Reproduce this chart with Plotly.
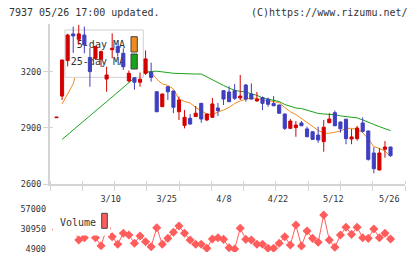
import numpy as np
import plotly.graph_objects as go

# ---------------- data ----------------
dates = ["2/25","2/26","2/27","2/28","3/3","3/4","3/5","3/6","3/7","3/10",
         "3/11","3/12","3/13","3/14","3/17","3/18","3/19","3/21","3/24","3/25",
         "3/26","3/27","3/28","3/31","4/1","4/2","4/3","4/4","4/7","4/8",
         "4/9","4/10","4/11","4/14","4/15","4/16","4/17","4/18","4/21","4/22",
         "4/23","4/24","4/25","4/28","4/30","5/1","5/2","5/7","5/8","5/9","5/12",
         "5/13","5/14","5/15","5/16","5/19","5/20","5/21","5/22","5/23","5/26"]

open_ = [2955,3071,3261,3404,3375,3398,3278,3273,3268,3162,
         3319,3336,3300,3152,3169,3145,3193,3200,3094,3014,
         3121,3098,2987,2914,2952,2961,3032,2943,2957,3007,
         3100,3093,3100,3061,3130,3082,3045,3063,3054,3031,
         3023,2975,2898,2902,2927,2895,2880,2862,2827,2928,
         2982,2932,2947,2841,2843,2927,2884,2766,2675,2786,2798]
high = [2958,3266,3405,3443,3452,3443,3329,3340,3315,3228,
        3407,3340,3327,3208,3172,3197,3315,3250,3096,3084,
        3123,3100,3068,2996,2975,3018,3034,2977,3061,3034,
        3102,3123,3136,3184,3136,3139,3093,3069,3063,3071,
        3025,2977,2948,2937,2937,2907,2882,2907,2943,2979,
        2993,2934,2949,2895,2911,2957,2886,2797,2793,2830,2800]
low = [2955,3050,3230,3302,3345,3300,3121,3265,3228,3094,
       3273,3282,3211,3145,3105,3121,3184,3148,2985,3012,
       3050,2979,2943,2898,2919,2959,2928,2937,2955,2964,
       3023,3039,3050,3050,3041,3053,3041,2996,3014,3017,
       2977,2889,2896,2853,2910,2851,2837,2821,2773,2926,
       2910,2875,2813,2813,2832,2875,2725,2657,2673,2741,2746]
close = [2958,3264,3398,3393,3404,3345,3202,3336,3309,3184,
         3327,3305,3228,3193,3145,3161,3270,3171,2987,3082,
         3094,3011,3050,2957,2921,2979,2948,2975,3029,2993,
         3055,3041,3059,3071,3055,3055,3054,3032,3027,3019,
         2979,2898,2937,2916,2912,2853,2839,2836,2904,2948,
         2912,2896,2843,2852,2900,2882,2732,2682,2766,2798,2752]

ma5 = [None,3029,3086,3136,3250,3330,3330,3320,3300,3270,
       3280,3290,3275,3250,3225,3215,3211,3197,3162,3136,
       3128,3109,3055,3042,3034,3010,2994,2975,2970,2986,
       2996,3010,3031,3045,3054,3059,3059,3050,3046,3042,
       3036,3010,2987,2972,2950,2929,2905,2887,2873,2872,
       2877,2884,2898,2898,2892,2876,2841,2801,2790,2777,2747]
ma25 = [None,2839,2865,2891,2916,2941,2966,2991,3016,3041,
        3066,3091,3117,3144,3168,3188,3197,3203,3204,3202,
        3197,3193,3191,3189,3189,3189,3189,3173,3156,3141,
        3128,3114,3102,3096,3093,3083,3075,3061,3054,3048,
        3042,3026,3015,3007,3004,2996,2986,2978,2975,2974,
        2971,2965,2961,2959,2954,2943,2929,2919,2907,2896,2886]

volume = [30000,35000,38000,33000,16600,19600,36000,19600,9200,32000,
          20900,11000,25400,23100,12300,21800,14400,7900,32600,11000,
          18800,26700,34900,25400,16600,11000,11000,5800,17900,19600,
          17500,6600,4900,31900,17500,16600,11000,11000,5800,5800,
          12300,20900,10100,36200,8800,28300,18800,13600,49200,16600,
          7100,23100,33200,24000,33200,19600,18800,31000,19600,25400,17900]

price_ticks = [2600, 2900, 3200]
vol_ticks = [4900, 30950, 57000]
date_labels = ["3/10", "3/25", "4/8", "4/22", "5/12", "5/26"]

# ---------------- geometry / style ----------------
W, H = 420, 259
ML, MR, MT, MB = 50, 15, 24, 7
XR = [-1.17, 62.6]
PRICE_RANGE = [2600, 3457]
VOL_RANGE = [993, 62210]
FONT = "DejaVu Sans Mono"
UP, DOWN = "#d40000", "#3f3fbf"
ORANGE, GREEN = "#f08c1e", "#1aa31a"
VOLC = "#ff5c5c"
AX = "#d4d4d4"
TXT = "#333333"

pw, ph = W - ML - MR, H - MT - MB
def px2x(p):  # pixel x -> data x (index units)
    return XR[0] + (p - ML) / pw * (XR[1] - XR[0])
def pxp(p):   # pixel x -> paper
    return (p - ML) / pw
def pyp(p):   # pixel y -> paper
    return (H - MB - p) / ph

x = list(range(len(dates)))
label_pos = [px2x(p) for p in (110.7, 166.7, 224.0, 278.0, 333.3, 389.3)]
tick_pos = list(np.linspace(XR[0], XR[1], 12))

fig = go.Figure()

# moving averages (base price subplot)
fig.add_trace(go.Scatter(x=x, y=ma5, mode="lines", line=dict(color=ORANGE, width=1),
                         xaxis="x", yaxis="y", hoverinfo="skip"))
fig.add_trace(go.Scatter(x=x, y=ma25, mode="lines", line=dict(color=GREEN, width=1),
                         xaxis="x", yaxis="y", hoverinfo="skip"))

# legend box (drawn above MA lines, below candles) on y3 in pixel units
bx = [px2x(v) for v in (65, 143.3, 143.3, 65, 65)]
fig.add_trace(go.Scatter(x=bx, y=[30, 30, 77.3, 77.3, 30], mode="lines", fill="toself",
                         fillcolor="white", line=dict(color="#d0d0d0", width=1),
                         xaxis="x", yaxis="y3", hoverinfo="skip"))
for (y0, y1, col, name) in ((36.7, 52, ORANGE, "5-day MA"), (54, 69, GREEN, "25-day MA")):
    sx = [px2x(v) for v in (131, 137.3, 137.3, 131, 131)]
    fig.add_trace(go.Scatter(x=sx, y=[y0, y0, y1, y1, y0], mode="lines", fill="toself",
                             fillcolor=col, line=dict(color="#444444", width=1),
                             xaxis="x", yaxis="y3", hoverinfo="skip"))
    fig.add_trace(go.Scatter(x=[px2x(125)], y=[(y0 + y1) / 2 + 1], mode="text", text=[name],
                             textposition="middle left",
                             textfont=dict(family=FONT, size=10, color=TXT),
                             xaxis="x", yaxis="y3", hoverinfo="skip"))

# candles on top overlay
fig.add_trace(go.Candlestick(x=x, open=open_, high=high, low=low, close=close,
                             increasing=dict(line=dict(color=UP, width=1), fillcolor=UP),
                             decreasing=dict(line=dict(color=DOWN, width=1), fillcolor=DOWN),
                             whiskerwidth=0, xaxis="x", yaxis="y4", hoverinfo="skip"))

# volume
fig.add_trace(go.Scatter(x=x, y=volume, mode="lines+markers",
                         line=dict(color=VOLC, width=1),
                         marker=dict(symbol="diamond", size=7, color=VOLC),
                         xaxis="x2", yaxis="y2", hoverinfo="skip"))

fig.update_layout(
    width=W, height=H, margin=dict(l=ML, r=MR, t=MT, b=MB, pad=0, autoexpand=False),
    paper_bgcolor="white", plot_bgcolor="white", showlegend=False,
    boxgap=0.2,
    xaxis=dict(domain=[0, 1], range=XR, anchor="y", showgrid=False, zeroline=False,
               showline=True, linecolor=AX, linewidth=2, automargin=False,
               tickmode="array", tickvals=tick_pos, showticklabels=False,
               ticks="outside", ticklen=5, tickcolor=AX, tickwidth=1,
               minor=dict(tickmode="array", tickvals=tick_pos, ticks="inside",
                          ticklen=3, tickcolor=AX, tickwidth=1, showgrid=False),
               rangeslider=dict(visible=False), fixedrange=True),
    yaxis=dict(domain=[pyp(184), 1], range=PRICE_RANGE, anchor="x", showgrid=False,
               zeroline=False, showline=True, linecolor=AX, linewidth=2, automargin=False,
               tickmode="array", tickvals=price_ticks, ticktext=[str(v) for v in price_ticks],
               ticks="outside", ticklen=5, tickcolor=AX, tickwidth=1,
               minor=dict(tickmode="array", tickvals=price_ticks, ticks="inside",
                          ticklen=3, tickcolor=AX, tickwidth=1, showgrid=False),
               tickfont=dict(family=FONT, size=8.5, color=TXT)),
    yaxis3=dict(overlaying="y", range=[184, 24], visible=False, showgrid=False),
    yaxis4=dict(overlaying="y", range=PRICE_RANGE, visible=False, showgrid=False),
    xaxis2=dict(domain=[0, 1], range=XR, anchor="y2", side="top", showgrid=False,
                zeroline=False, showline=False, ticks="", automargin=False,
                tickmode="array", tickvals=label_pos, ticktext=date_labels,
                tickfont=dict(family=FONT, size=8.5, color=TXT)),
    yaxis2=dict(domain=[0, pyp(205)], range=VOL_RANGE, anchor="x2", showgrid=False,
                zeroline=False, showline=False, ticks="", automargin=False,
                tickmode="array", tickvals=vol_ticks, ticktext=[str(v) for v in vol_ticks],
                tickfont=dict(family=FONT, size=8.5, color=TXT), ticklabelstandoff=3),
)

# volume legend (white backing hides points under it)
fig.add_shape(type="rect", xref="paper", yref="paper", layer="above",
              x0=pxp(53), x1=pxp(110), y0=pyp(235.5), y1=pyp(206),
              fillcolor="white", line=dict(width=0))
fig.add_shape(type="rect", xref="paper", yref="paper", layer="above",
              x0=pxp(101.7), x1=pxp(107.3), y0=pyp(228.3), y1=pyp(213.3),
              fillcolor=VOLC, line=dict(color="#444444", width=1))
fig.add_annotation(text="Volume", xref="paper", yref="paper", x=pxp(58), y=pyp(222),
                   xanchor="left", yanchor="middle", showarrow=False,
                   font=dict(family=FONT, size=10, color=TXT))

# header
fig.add_annotation(text="7937 05/26 17:00 updated.", xref="paper", yref="paper",
                   x=pxp(7), y=pyp(13), xanchor="left", yanchor="middle", showarrow=False,
                   font=dict(family=FONT, size=10, color=TXT))
fig.add_annotation(text="(C)https://www.rizumu.net/", xref="paper", yref="paper",
                   x=pxp(410), y=pyp(13), xanchor="right", yanchor="middle", showarrow=False,
                   font=dict(family=FONT, size=10, color=TXT))

fig.write_html("out.html", config={"displayModeBar": False})
